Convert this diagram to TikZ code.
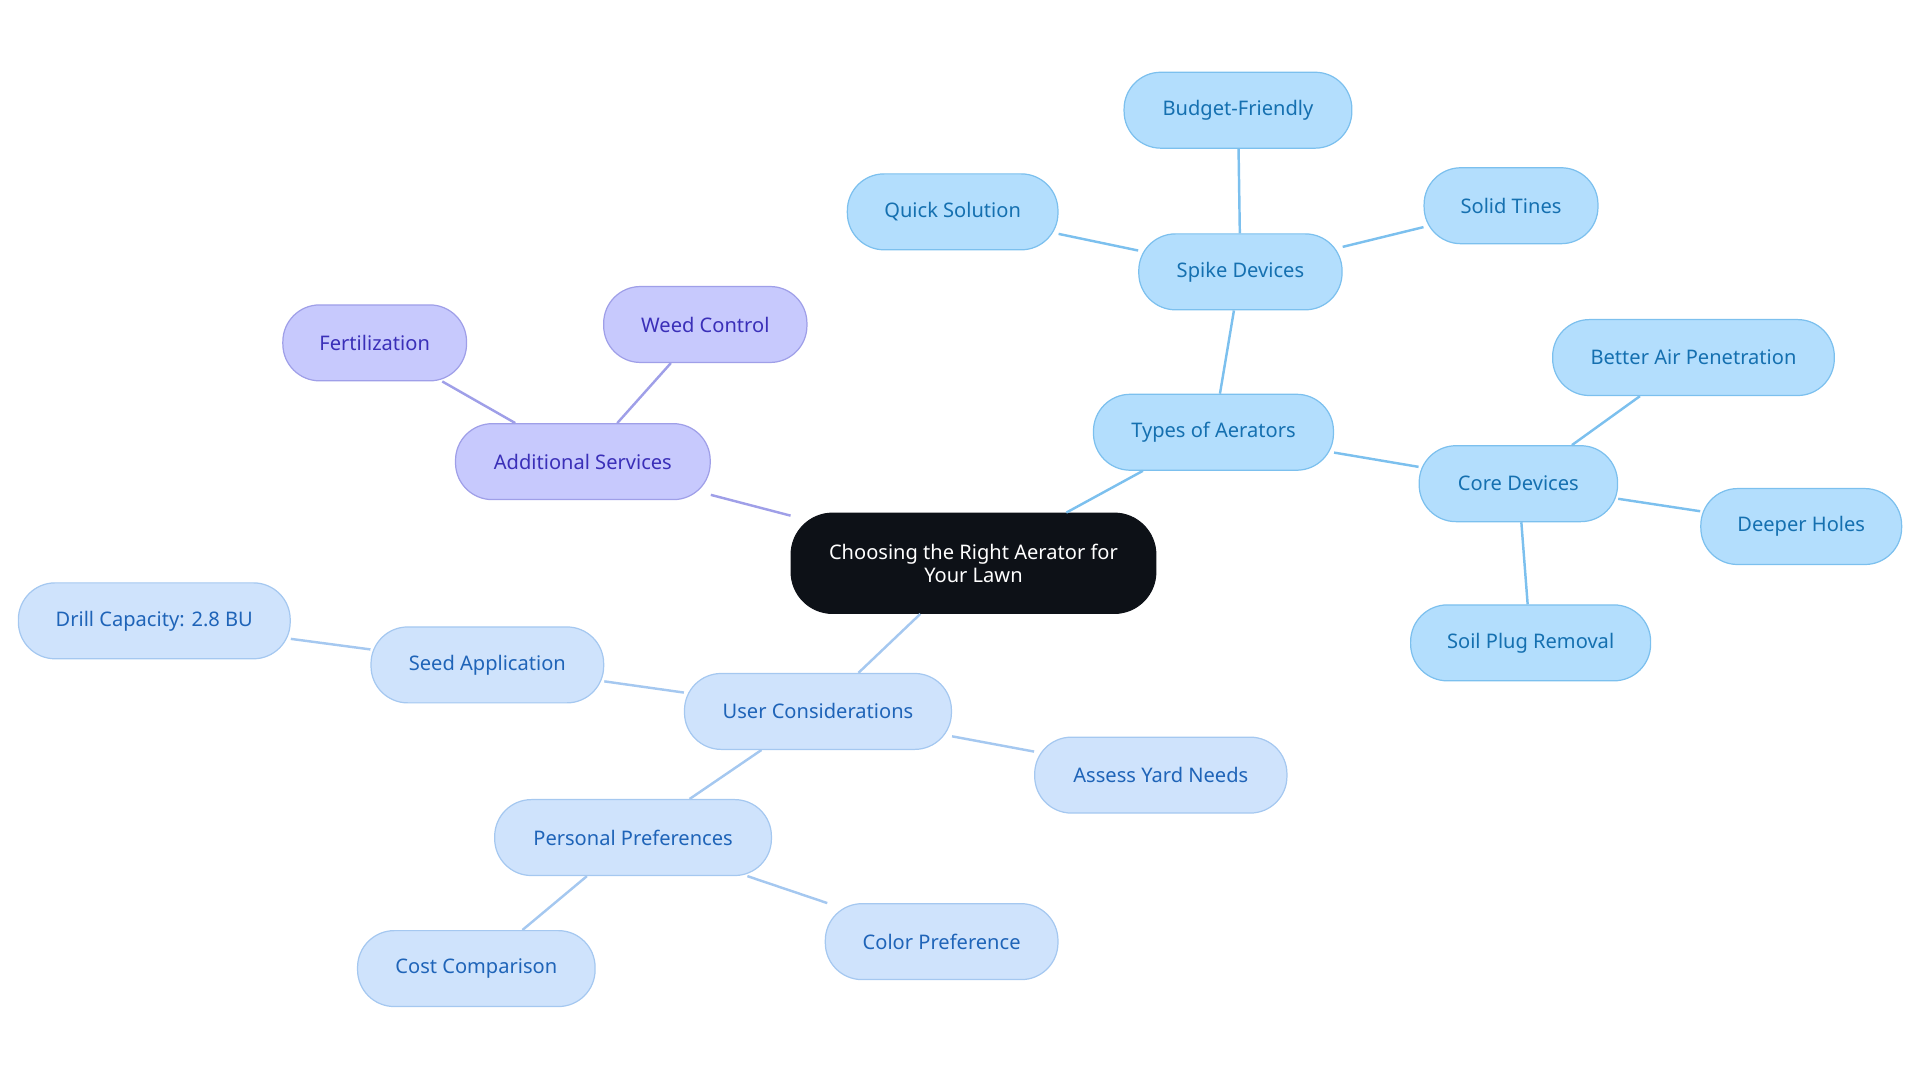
\documentclass[tikz,border=0pt]{standalone}
\usepackage{fontspec}
\setmainfont{Noto Sans}
\usetikzlibrary{positioning}
\definecolor{rootbg}{HTML}{0D1117}
\definecolor{bluebg}{HTML}{B3DEFD}
\definecolor{blueln}{HTML}{7CC0EE}
\definecolor{bluetx}{HTML}{1570B0}
\definecolor{purpbg}{HTML}{C7C9FD}
\definecolor{purpln}{HTML}{9F9FE8}
\definecolor{purptx}{HTML}{3A2FB8}
\definecolor{userbg}{HTML}{CFE3FC}
\definecolor{userln}{HTML}{A5C8F0}
\definecolor{usertx}{HTML}{1F64B8}
\tikzset{
  leaf/.style={draw, rounded corners=15pt, minimum height=31pt, font=\fontsize{8.2}{9}\selectfont, line width=0.5pt},
  bluenode/.style={leaf, fill=bluebg, draw=blueln, text=bluetx},
  purpnode/.style={leaf, fill=purpbg, draw=purpln, text=purptx},
  usernode/.style={leaf, fill=userbg, draw=userln, text=usertx},
  blueedge/.style={draw=blueln, line width=1pt},
  purpedge/.style={draw=purpln, line width=1pt},
  useredge/.style={draw=userln, line width=1pt},
}
\begin{document}
\begin{tikzpicture}[x=0.5pt, y=-0.5pt]
\useasboundingbox (0,0) rectangle (1568,884);
% root
\node [draw=rootbg, fill=rootbg, text=white, rounded corners=17pt, minimum width=149pt, minimum height=41pt,
  align=center, font=\fontsize{8.2}{9.5}\selectfont] (root) at (795,460) {Choosing the Right Aerator for\\Your Lawn};
% types of aerators
\node [bluenode, minimum width=98pt] (types) at (991,353) {Types of Aerators};
\node [bluenode, minimum width=83pt] (spike) at (1013,222) {Spike Devices};
\node [bluenode, minimum width=93pt] (budget) at (1011,90) {Budget-Friendly};
\node [bluenode, minimum width=86pt] (quick) at (778,173) {Quick Solution};
\node [bluenode, minimum width=71pt] (tines) at (1234,168) {Solid Tines};
\node [bluenode, minimum width=81pt] (core) at (1240,395) {Core Devices};
\node [bluenode, minimum width=115pt] (air) at (1383,292) {Better Air Penetration};
\node [bluenode, minimum width=82pt] (holes) at (1471,430) {Deeper Holes};
\node [bluenode, minimum width=98pt] (plug) at (1250,525) {Soil Plug Removal};
% additional services
\node [purpnode, minimum width=104pt] (extra) at (476,377) {Additional Services};
\node [purpnode, minimum width=75pt] (fert) at (306,280) {Fertilization};
\node [purpnode, minimum width=83pt] (weed) at (576,265) {Weed Control};
% user considerations
\node [usernode, minimum width=109pt] (user) at (668,581) {User Considerations};
\node [usernode, minimum width=95pt] (seed) at (398,543) {Seed Application};
\node [usernode, minimum width=111pt] (drill) at (126,507) {Drill Capacity: 2.8 BU};
\node [usernode, minimum width=103pt] (yard) at (948,633) {Assess Yard Needs};
\node [usernode, minimum width=113pt] (pref) at (517,684) {Personal Preferences};
\node [usernode, minimum width=97pt] (cost) at (389,791) {Cost Comparison};
\node [usernode, minimum width=95pt] (color) at (769,769) {Color Preference};
% connectors
\draw [blueedge] (root) -- (types);
\draw [blueedge] (types) -- (spike);
\draw [blueedge] (spike) -- (budget);
\draw [blueedge] (spike) -- (quick);
\draw [blueedge] (spike) -- (tines);
\draw [blueedge] (types) -- (core);
\draw [blueedge] (core) -- (air);
\draw [blueedge] (core) -- (holes);
\draw [blueedge] (core) -- (plug);
\draw [purpedge] (root) -- (extra);
\draw [purpedge] (extra) -- (fert);
\draw [purpedge] (extra) -- (weed);
\draw [useredge] (root) -- (user);
\draw [useredge] (user) -- (seed);
\draw [useredge] (seed) -- (drill);
\draw [useredge] (user) -- (yard);
\draw [useredge] (user) -- (pref);
\draw [useredge] (pref) -- (cost);
\draw [useredge] (pref) -- (color);
\end{tikzpicture}
\end{document}
